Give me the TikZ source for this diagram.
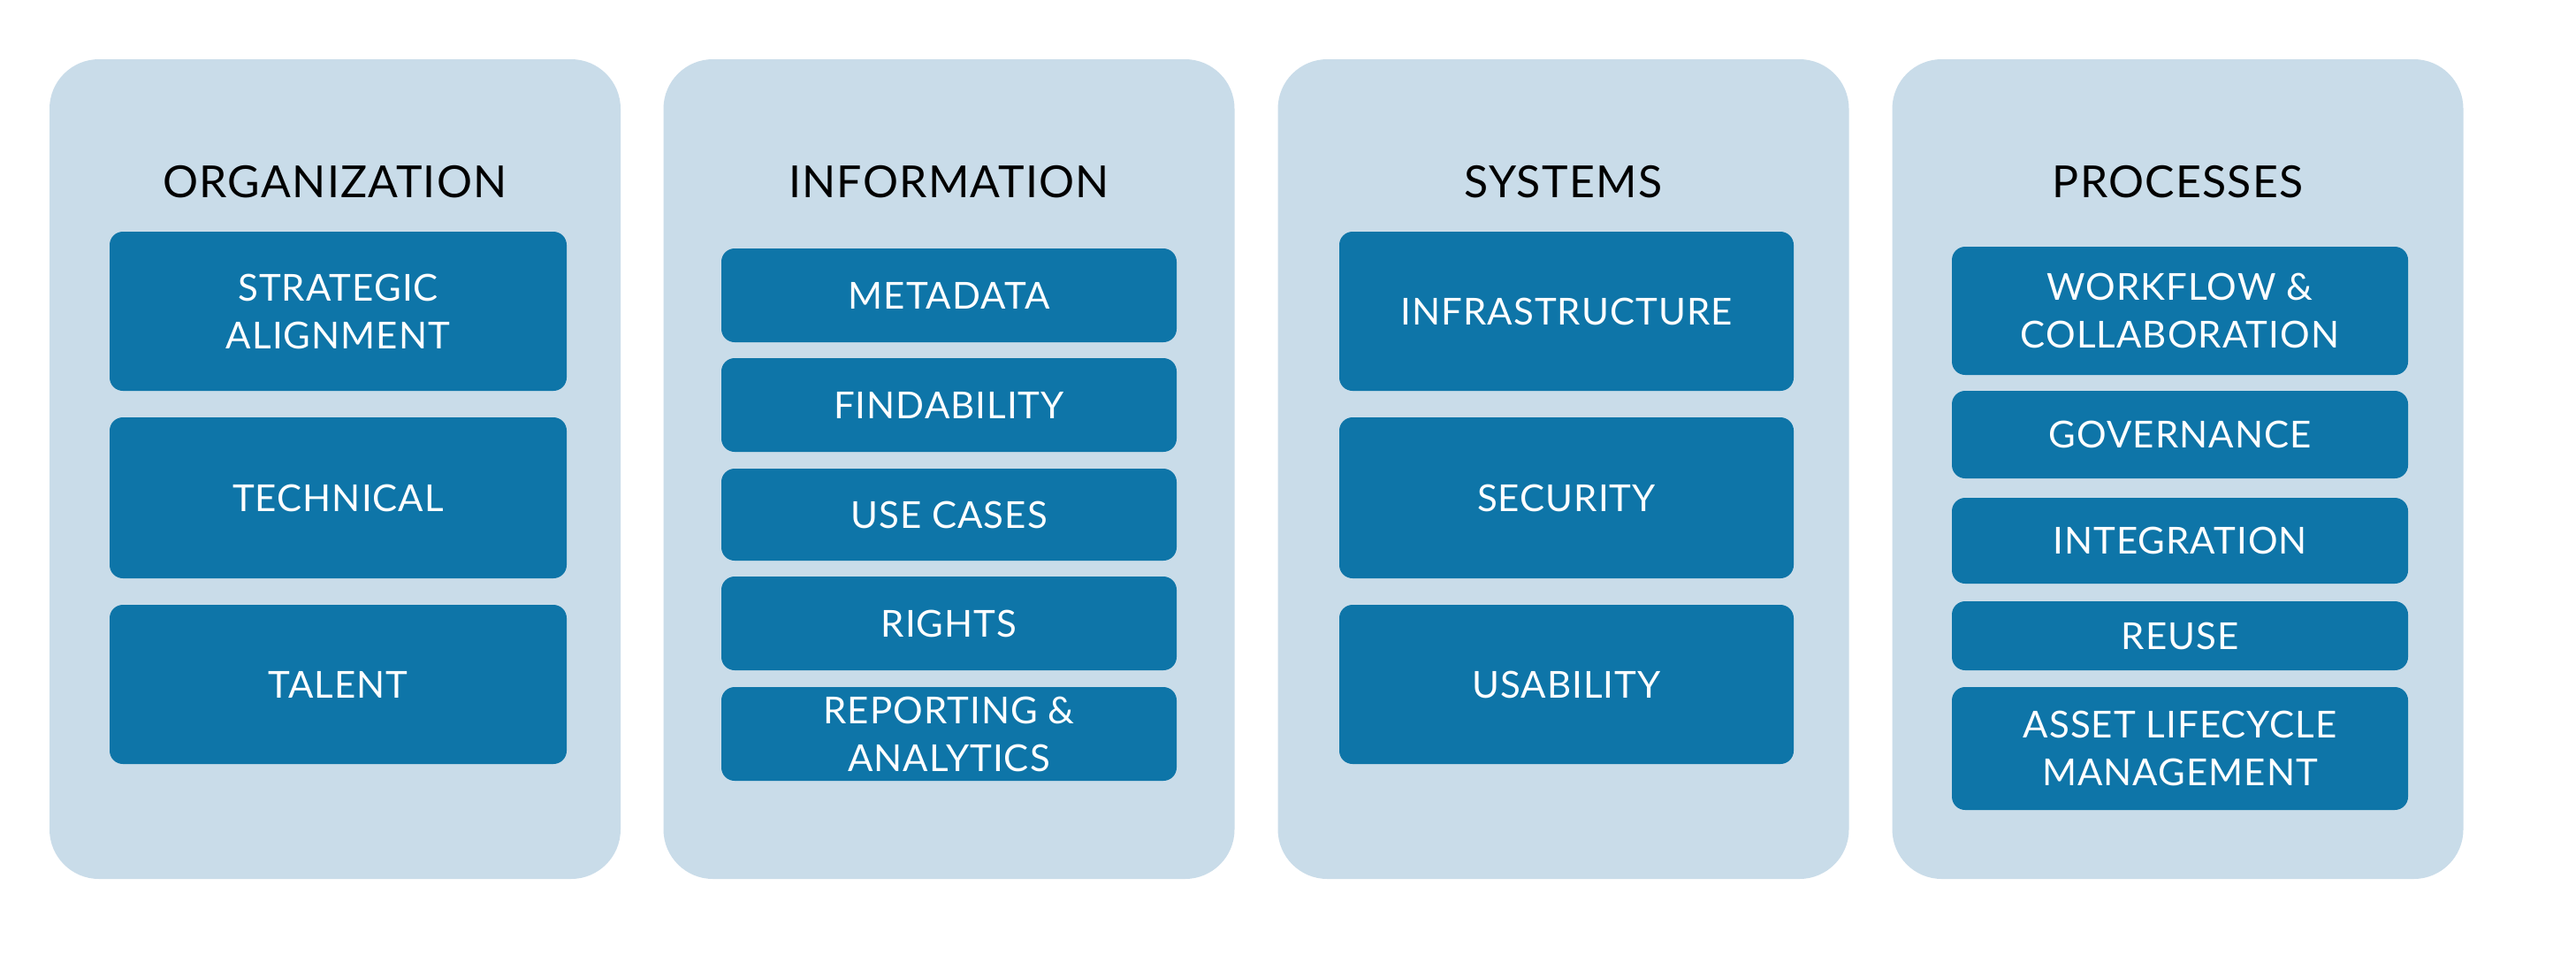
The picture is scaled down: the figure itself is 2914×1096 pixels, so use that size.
\documentclass[tikz,border=0pt]{standalone}
\usepackage{fontspec}
\setmainfont[LetterSpace=2.5]{Lato}
\definecolor{panelbg}{RGB}{201,220,233}
\definecolor{boxbg}{RGB}{14,117,168}
\begin{document}
\begin{tikzpicture}[x=1pt,y=-1pt,
  panel/.style={fill=panelbg, draw=none, rounded corners=56pt, inner sep=0pt, minimum width=646pt, minimum height=927pt},
  ptitle/.style={text=black, font=\fontsize{50}{60}\selectfont, anchor=base, inner sep=0pt},
  ibox/.style={fill=boxbg, draw=none, rounded corners=15pt, inner sep=0pt, text=white, align=center, font=\fontsize{42}{54}\selectfont}]
\useasboundingbox[fill=white] (0,0) rectangle (2914,1096);
% panels
\node[panel] (P1) at (379,530.5) {};
\node[panel] (P2) at (1073.5,530.5) {};
\node[panel] (P3) at (1768.5,530.5) {};
\node[panel] (P4) at (2463.5,530.5) {};
% titles
\node[ptitle] (T1) at (379,223) {ORGANIZATION};
\node[ptitle] (T2) at (1073.5,223) {INFORMATION};
\node[ptitle] (T3) at (1768.5,223) {SYSTEMS};
\node[ptitle] (T4) at (2463.5,223) {PROCESSES};
% organization
\node[ibox, minimum width=517pt, minimum height=180pt] (o1) at (382.5,352) {STRATEGIC\\ALIGNMENT};
\node[ibox, minimum width=517pt, minimum height=182pt] (o2) at (382.5,563) {TECHNICAL};
\node[ibox, minimum width=517pt, minimum height=180pt] (o3) at (382.5,774) {TALENT};
% information
\node[ibox, minimum width=515pt, minimum height=106pt] (i1) at (1073.5,334) {METADATA};
\node[ibox, minimum width=515pt, minimum height=106pt] (i2) at (1073.5,458) {FINDABILITY};
\node[ibox, minimum width=515pt, minimum height=104pt] (i3) at (1073.5,582) {USE CASES};
\node[ibox, minimum width=515pt, minimum height=106pt] (i4) at (1073.5,705) {RIGHTS};
\node[ibox, minimum width=515pt, minimum height=106pt] (i5) at (1073.5,830) {\raisebox{-5pt}{\parbox{515pt}{\centering REPORTING \&\\ANALYTICS}}};
% systems
\node[ibox, minimum width=514pt, minimum height=180pt] (s1) at (1772,352) {INFRASTRUCTURE};
\node[ibox, minimum width=514pt, minimum height=182pt] (s2) at (1772,563) {SECURITY};
\node[ibox, minimum width=514pt, minimum height=180pt] (s3) at (1772,774) {USABILITY};
% processes
\node[ibox, minimum width=516pt, minimum height=145pt] (r1) at (2466,351.5) {WORKFLOW \&\\COLLABORATION};
\node[ibox, minimum width=516pt, minimum height=99pt] (r2) at (2466,491.5) {GOVERNANCE};
\node[ibox, minimum width=516pt, minimum height=97pt] (r3) at (2466,611.5) {INTEGRATION};
\node[ibox, minimum width=516pt, minimum height=78pt] (r4) at (2466,719) {REUSE};
\node[ibox, minimum width=516pt, minimum height=139pt] (r5) at (2466,846.5) {ASSET LIFECYCLE\\MANAGEMENT};
\end{tikzpicture}
\end{document}
